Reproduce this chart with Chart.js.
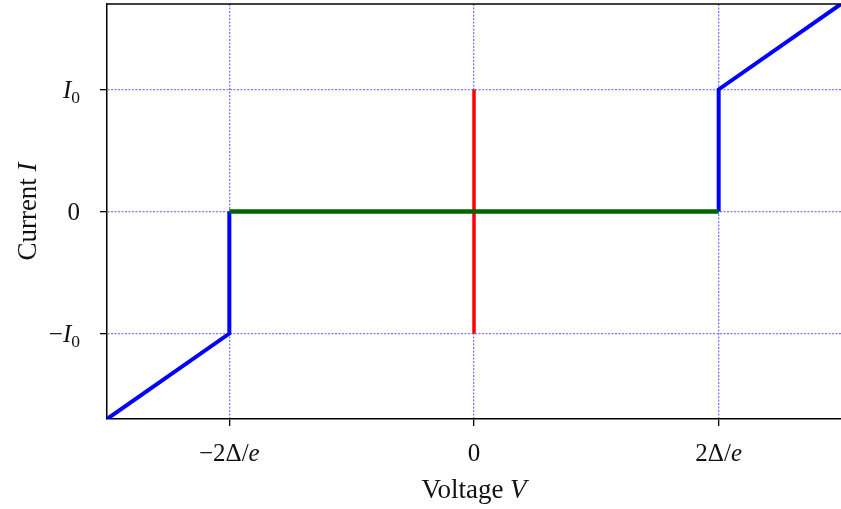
<!DOCTYPE html>
<html>
<head>
<meta charset="utf-8">
<script src="https://cdn.jsdelivr.net/npm/chart.js@4/dist/chart.umd.min.js"></script>
<style>
  html, body { margin: 0; padding: 0; background: #fff; }
  #wrap { width: 841px; height: 509px; position: relative; }
</style>
</head>
<body>
<div id="wrap"><canvas id="chart"></canvas></div>
<script>
// -------- Datos (V en unidades de Δ/e, I en unidades de I0) --------
const leftBranchV  = [-3, -2, -2];
const leftBranchI  = [-1.7, -1, 0];
const rightBranchV = [2, 2, 3];
const rightBranchI = [0, 1, 1.7];
const gapV = [-2, 2];
const gapI = [0, 0];
const josephsonV = [0, 0];
const josephsonI = [-1, 1];

const xRange = [-3, 3];
const yRange = [-1.7, 1.7];
const xTicks = [-2, 0, 2];
const yTicks = [-1, 0, 1];

// etiquetas con tramos en cursiva / subíndice
const xTickLabels = [
  [{ t: "\u22122\u0394/" }, { t: "e", it: true }],
  [{ t: "0" }],
  [{ t: "2\u0394/" }, { t: "e", it: true }]
];
const yTickLabels = [
  [{ t: "\u2212" }, { t: "I", it: true }, { t: "0", sub: true }],
  [{ t: "0" }],
  [{ t: "I", it: true }, { t: "0", sub: true }]
];
const xTitle = [{ t: "Voltage " }, { t: "V", it: true }];
const yTitle = [{ t: "Current " }, { t: "I", it: true }];

const toPts = (xs, ys) => xs.map((x, i) => ({ x, y: ys[i] }));

const FAMILY = "'Liberation Serif', 'DejaVu Serif', serif";
const TICK_SIZE = 25;
const TITLE_SIZE = 27;

function fontFor(seg, size) {
  const s = seg.sub ? size * 0.7 : size;
  return `${seg.it ? "italic " : ""}${s}px ${FAMILY}`;
}

function richWidth(ctx, segs, size) {
  let w = 0;
  for (const s of segs) { ctx.font = fontFor(s, size); w += ctx.measureText(s.t).width; }
  return w;
}

// dibuja texto mixto; (x,y) = punto de anclaje, y = centro vertical
function drawRich(ctx, segs, x, y, align, size) {
  const w = richWidth(ctx, segs, size);
  let cx = align === "right" ? x - w : align === "center" ? x - w / 2 : x;
  const base = y + size * 0.33;
  ctx.fillStyle = "#111";
  ctx.textBaseline = "alphabetic";
  ctx.textAlign = "left";
  for (const s of segs) {
    ctx.font = fontFor(s, size);
    ctx.fillText(s.t, cx, s.sub ? base + size * 0.2 : base);
    cx += ctx.measureText(s.t).width;
  }
}

const labelsPlugin = {
  id: "richLabels",
  afterDraw(chart) {
    const { ctx, chartArea: a, scales } = chart;
    ctx.save();
    // marco superior
    ctx.strokeStyle = "#000";
    ctx.lineWidth = 1.5;
    ctx.beginPath();
    ctx.moveTo(a.left, a.top);
    ctx.lineTo(a.right, a.top);
    ctx.stroke();

    xTicks.forEach((v, i) => {
      drawRich(ctx, xTickLabels[i], scales.x.getPixelForValue(v), a.bottom + 34, "center", TICK_SIZE);
    });
    yTicks.forEach((v, i) => {
      drawRich(ctx, yTickLabels[i], a.left - 27, scales.y.getPixelForValue(v), "right", TICK_SIZE);
    });

    drawRich(ctx, xTitle, (a.left + a.right) / 2, a.bottom + 70, "center", TITLE_SIZE);

    ctx.translate(27, (a.top + a.bottom) / 2);
    ctx.rotate(-Math.PI / 2);
    drawRich(ctx, yTitle, 0, 0, "center", TITLE_SIZE);
    ctx.restore();
  }
};

const gridOpts = {
  color: "#7a7aff",
  lineWidth: 1.3,
  tickColor: "#000",
  tickWidth: 1.3,
  tickLength: 7,
  drawOnChartArea: true
};

const noPad = s => { s.paddingTop = 0; s.paddingBottom = 0; s.paddingLeft = 0; s.paddingRight = 0; };

new Chart(document.getElementById("chart"), {
  type: "line",
  data: {
    datasets: [
      { label: "gap", data: toPts(gapV, gapI), borderColor: "#006400", borderWidth: 4.5, order: 0 },
      { label: "left", data: toPts(leftBranchV, leftBranchI), borderColor: "#0000ff", borderWidth: 4, order: 1 },
      { label: "right", data: toPts(rightBranchV, rightBranchI), borderColor: "#0000ff", borderWidth: 4, order: 1 },
      { label: "josephson", data: toPts(josephsonV, josephsonI), borderColor: "#ff0000", borderWidth: 3.5, order: 2 }
    ]
  },
  options: {
    responsive: true,
    maintainAspectRatio: false,
    animation: false,
    layout: { padding: { top: 4, right: 0, left: 0, bottom: 0 } },
    elements: { point: { radius: 0, hoverRadius: 0 }, line: { tension: 0, borderCapStyle: "butt", borderJoinStyle: "miter" } },
    plugins: { legend: { display: false }, tooltip: { enabled: false } },
    scales: {
      x: {
        type: "linear",
        min: xRange[0], max: xRange[1],
        afterBuildTicks: s => { s.ticks = xTicks.map(v => ({ value: v })); },
        afterFit: s => { s.height = 90; noPad(s); },
        grid: gridOpts,
        border: { color: "#000", width: 1.5, dash: [2, 1.5] },
        ticks: { color: "rgba(0,0,0,0)", font: { size: 1 }, padding: 0 }
      },
      y: {
        type: "linear",
        min: yRange[0], max: yRange[1],
        afterBuildTicks: s => { s.ticks = yTicks.map(v => ({ value: v })); },
        afterFit: s => { s.width = 107; noPad(s); },
        grid: gridOpts,
        border: { color: "#000", width: 1.5, dash: [2, 1.5] },
        ticks: { color: "rgba(0,0,0,0)", font: { size: 1 }, padding: 0 }
      }
    }
  },
  plugins: [labelsPlugin]
});
</script>
</body>
</html>
